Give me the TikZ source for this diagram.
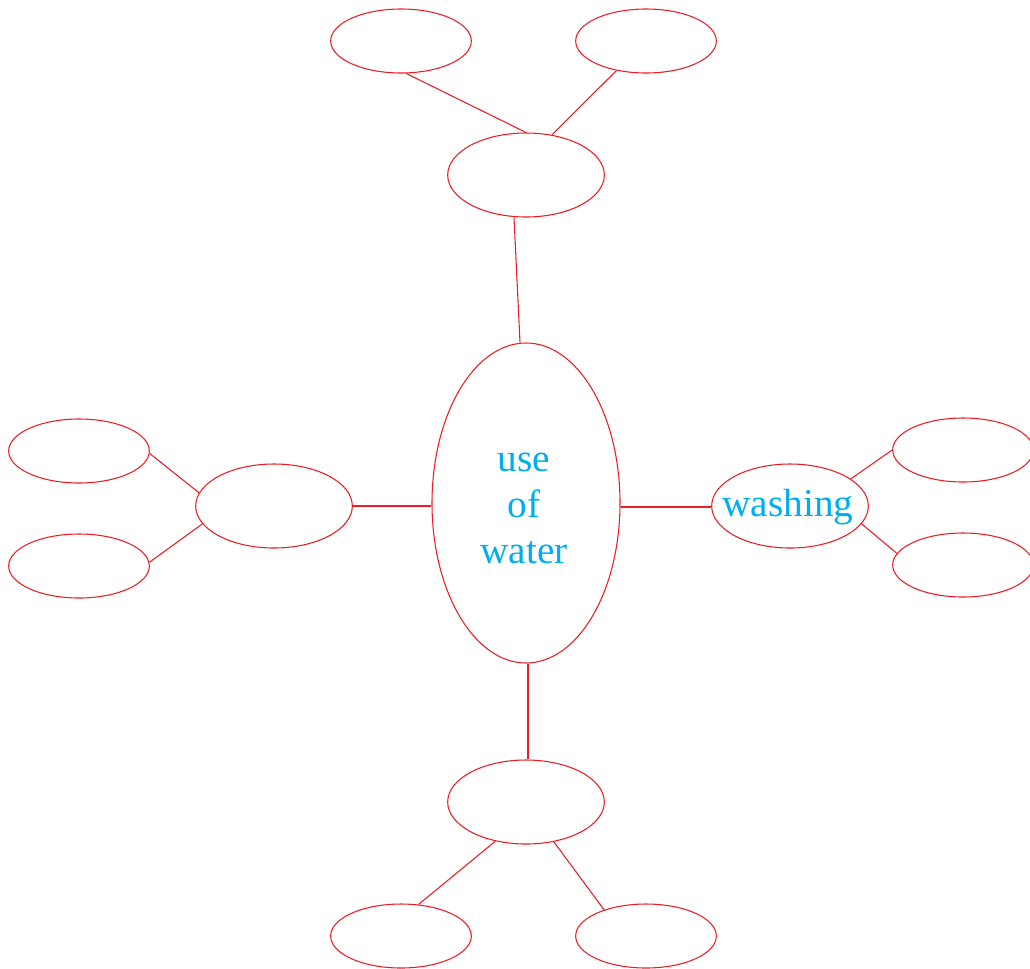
\documentclass[tikz,border=0pt]{standalone}
\usepackage{fontspec}
\setmainfont{Liberation Serif}
\usetikzlibrary{shapes.geometric}
\definecolor{lred}{HTML}{ED1C24}
\definecolor{lcyan}{HTML}{00AEEF}
\tikzset{
  bubble/.style={draw=lred, line width=0.8pt, ellipse, inner sep=0pt},
  big/.style={bubble, minimum width=117.5pt, minimum height=63pt},
  small/.style={bubble, minimum width=105.5pt, minimum height=48pt},
  centre/.style={bubble, minimum width=141pt, minimum height=240pt},
  word/.style={inner sep=0pt, font=\fontsize{29.5}{34.5}\selectfont, text=lcyan, align=center},
  link/.style={draw=lred, line width=0.8pt}
}
\begin{document}
\begin{tikzpicture}[x=0.75pt, y=-0.75pt]
\useasboundingbox (0,0) rectangle (1030,968);
\clip (0,0) rectangle (1030,968);
\node[centre] (c) at (526,503) {};
\node[word] (ctext) at (524,508) {use\\of\\water};
\node[big] (tm) at (526,175) {};
\node[small] (tl) at (401,41) {};
\node[small] (tr) at (646,41) {};
\node[big] (lm) at (274,506) {};
\node[small] (lt) at (79,451) {};
\node[small] (lb) at (79,566) {};
\node[big] (rm) at (790,506) {};
\node[word] (rmtext) at (788,507) {washing};
\node[small] (rt) at (963,450) {};
\node[small] (rb) at (963,565) {};
\node[big] (bm) at (526,802) {};
\node[small] (bl) at (401,936) {};
\node[small] (br) at (646,936) {};
\draw[link] ([xshift=-4.5pt]c.north) -- ([xshift=-9pt]tm.south);
\draw[link] (tm.north) -- (tl.279);
\draw[link] (tm.57) -- (tr.225);
\draw[link] (lm.east) -- (lm.east -| c.west);
\draw[link] (lm.170) -- (lt.-2);
\draw[link] (lm.194) -- (lb.3);
\draw[link] ([yshift=-0.75pt]rm.west -| c.east) -- ([yshift=-0.75pt]rm.west);
\draw[link] (rm.24) -- (rt.west);
\draw[link] (rm.-14) -- (rb.170);
\draw[link] ([xshift=1.5pt]c.south) -- ([xshift=1.5pt]bm.north);
\draw[link] (bm.232) -- (bl.61);
\draw[link] (bm.305) -- (br.148);
\end{tikzpicture}
\end{document}
